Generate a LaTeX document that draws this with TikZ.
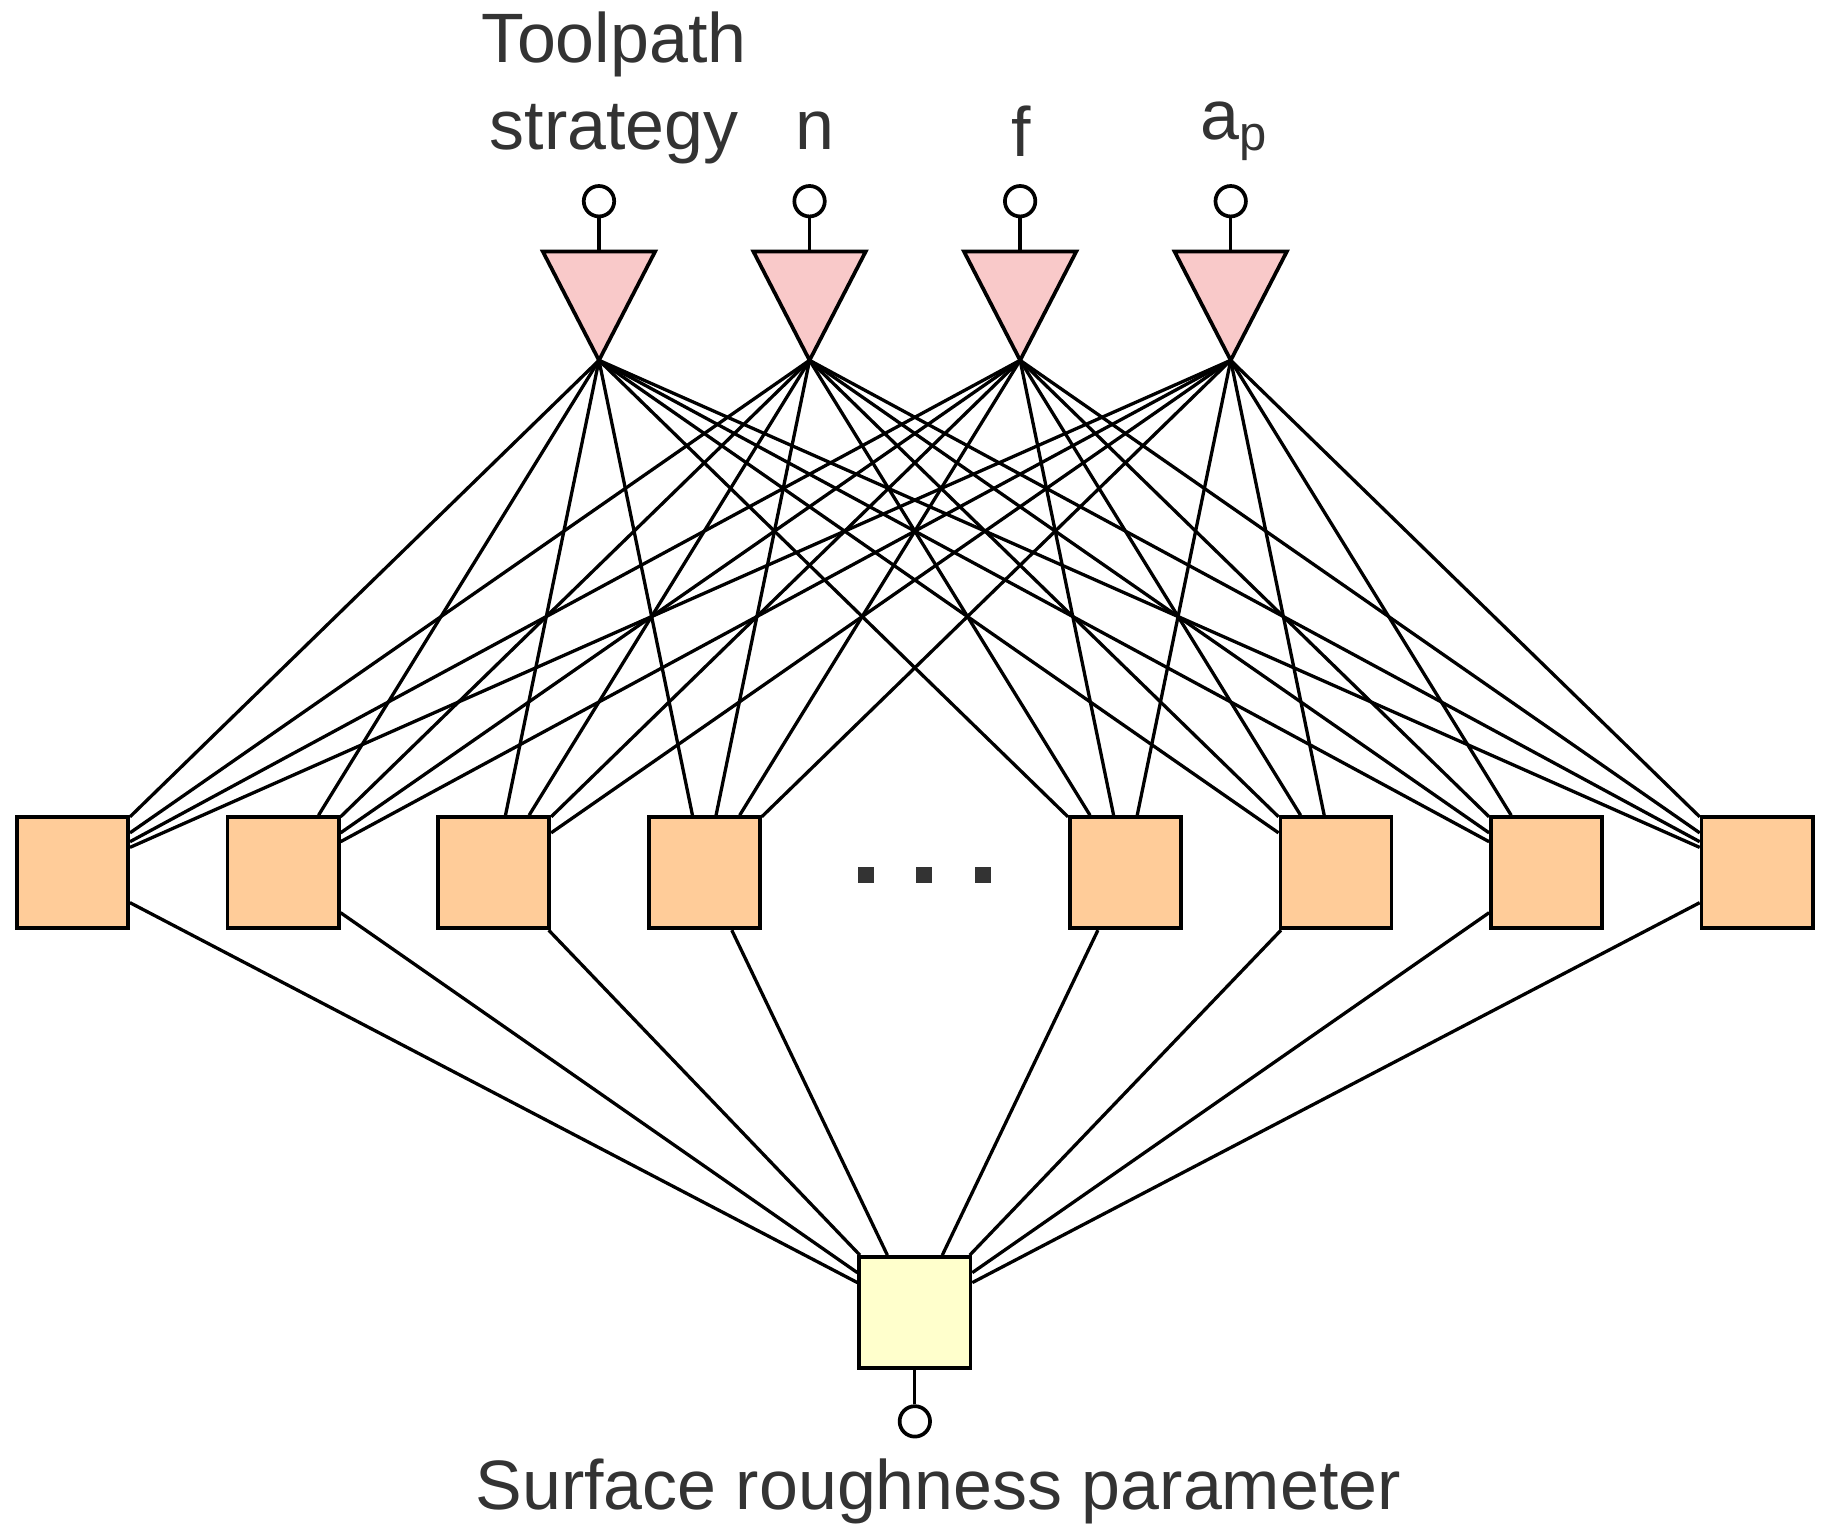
\documentclass[tikz,border=0pt]{standalone}
\usepackage{fontspec}
\setmainfont{Liberation Sans}
\usetikzlibrary{positioning}
\definecolor{tripink}{HTML}{F9C9C9}
\definecolor{hidorange}{HTML}{FFCC99}
\definecolor{outyellow}{HTML}{FFFFCC}
\definecolor{labgray}{HTML}{333333}
\tikzset{
	hidden/.style={draw, line width=0.9pt, fill=hidorange, minimum size=0.95cm, inner sep=0pt},
	output/.style={draw, line width=0.9pt, fill=outyellow, minimum size=0.95cm, inner sep=0pt},
	pin/.style={draw, line width=0.9pt, fill=white, circle, minimum size=0.26cm, inner sep=0pt},
	lab/.style={text=labgray, font=\fontsize{17}{21}\selectfont, align=center},
	wire/.style={line width=0.8pt},
}
\begin{document}
\begin{tikzpicture}[x=0.01cm, y=-0.01cm]
	\useasboundingbox (0, 0) rectangle (1560, 1316);

	% input layer
	\foreach \i/\x in {1/512, 2/692, 3/872, 4/1052} {
		\draw[line width=0.9pt, fill=tripink] (\x-48, 215) -- (\x+48, 215) -- (\x, 308) -- cycle;
		\coordinate (in\i) at (\x, 308);
		\coordinate (top\i) at (\x, 215);
		\node[pin] (p\i) at (\x, 172) {};
		\draw[wire] (p\i) -- (top\i);
	}
	\node[lab] (l1) at (525, 75) {Toolpath\\strategy};
	\node[lab] (l2) at (697, 112) {n};
	\node[lab] (l3) at (873, 112) {f};
	\node[lab] (l4) at (1055, 112) {a\textsubscript{p}};

	% hidden layer
	\foreach \j/\x in {1/62, 2/242, 3/422, 4/602, 5/962, 6/1142, 7/1322, 8/1502}
		\node[hidden] (h\j) at (\x, 746) {};
	\foreach \x in {740, 790, 840}
		\fill[labgray] (\x-7, 741) rectangle (\x+7, 755);

	% output layer
	\node[output] (o) at (782, 1122) {};
	\node[pin] (po) at (782, 1215) {};
	\draw[wire] (o) -- (po);
	\node[lab] (lo) at (802, 1275) {Surface roughness parameter};

	% connections
	\foreach \i in {1,...,4}
		\foreach \j in {1,...,8}
			\draw[wire] (in\i) -- (h\j);
	\foreach \j in {1,...,8}
		\draw[wire] (h\j) -- (o);
\end{tikzpicture}
\end{document}
